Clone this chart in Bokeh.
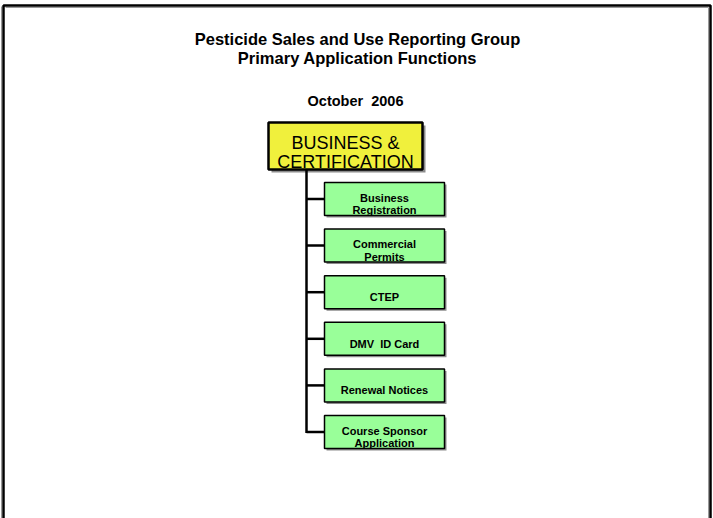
from bokeh.plotting import figure
from bokeh.models import Range1d
from bokeh.core.properties import value
from bokeh.embed import file_html
from bokeh.resources import INLINE

# ---- data ----
title_lines = ["Pesticide Sales and Use Reporting Group", "Primary Application Functions"]
date_label = "October \u00a02006"
head_lines = ["BUSINESS &", "CERTIFICATION"]
functions = ["Business\nRegistration", "Commercial\nPermits", "CTEP",
             "DMV \u00a0ID Card", "Renewal Notices", "Course Sponsor\nApplication"]

W, H = 713, 518
OX, OY = 0, 0
p = figure(width=W, height=H, output_backend="svg", toolbar_location=None,
           x_range=Range1d(OX, OX + W), y_range=Range1d(OY + H, OY),
           min_border=0)
p.axis.visible = False
p.grid.visible = False
p.outline_line_color = None
p.background_fill_color = "white"

FONT = value("Liberation Sans")

# outer frame (black outer + gray inner)
fx0, fy0, fx1, fy1 = 3, 5, 710, 540
p.line([fx0, fx0, fx1, fx1], [fy1, fy0, fy0, fy1], line_color="black", line_width=2.5)
p.line([fx0 - 2, fx0 - 2], [fy1, fy0 + 1], line_color="#9a9a9a", line_width=1)
p.line([fx0 + 2, fx1 - 2], [fy0 + 2, fy0 + 2], line_color="#9a9a9a", line_width=1)
p.line([fx1 - 2, fx1 - 2], [fy0 + 2, fy1], line_color="#9a9a9a", line_width=1)

# titles
p.text(x=[357, 357], y=[38, 57], text=title_lines, text_font=FONT,
       text_font_size="16.5px", text_font_style="bold", text_align="center",
       text_baseline="alphabetic", text_color="black")
p.text(x=[355], y=[100], text=[date_label], text_font=FONT,
       text_font_size="14.5px", text_font_style="bold", text_align="center",
       text_baseline="alphabetic", text_color="black")

# head box
hx0, hx1, hy0, hy1 = 268, 422, 122, 169
p.quad(left=[hx0 + 3], right=[hx1 + 3], top=[hy0 + 3], bottom=[hy1 + 3],
       fill_color="#8c8c8c", line_color=None)
p.quad(left=[hx0], right=[hx1], top=[hy0], bottom=[hy1],
       fill_color="#f0f03c", line_color="black", line_width=2.5)
p.text(x=[345, 345], y=[142.5, 161.5], text=head_lines, text_font=FONT,
       text_font_size="18px", text_align="center", text_baseline="alphabetic",
       text_color="black")

# function boxes
bx0, bx1 = 324, 444
top0, pitch, bh = 182, 46.6, 33
trunk_x = 306
centers = []
for i, lab in enumerate(functions):
    t = top0 + i * pitch
    b = t + bh
    c = (t + b) / 2
    centers.append(c)
    p.quad(left=[bx0 + 2], right=[bx1 + 2], top=[t + 2], bottom=[b + 2],
           fill_color="#8c8c8c", line_color=None)
    p.quad(left=[bx0], right=[bx1], top=[t], bottom=[b],
           fill_color="#99ff99", line_color="black", line_width=1.5)
    lines = lab.split("\n")
    n = len(lines)
    for k, ln in enumerate(lines):
        y = c + 5 + (k - (n - 1) / 2) * 12.7
        p.text(x=[(bx0 + bx1) / 2], y=[y], text=[ln], text_font=FONT,
               text_font_size="11px", text_font_style="bold", text_align="center",
               text_baseline="alphabetic", text_color="black")

# connectors
p.segment(x0=[trunk_x], y0=[hy1], x1=[trunk_x], y1=[centers[-1] + 1],
          line_color="black", line_width=2.5)
p.segment(x0=[trunk_x] * len(centers), y0=centers, x1=[bx0] * len(centers), y1=centers,
          line_color="black", line_width=2.5)

open("out.html", "w").write(file_html(p, INLINE))
